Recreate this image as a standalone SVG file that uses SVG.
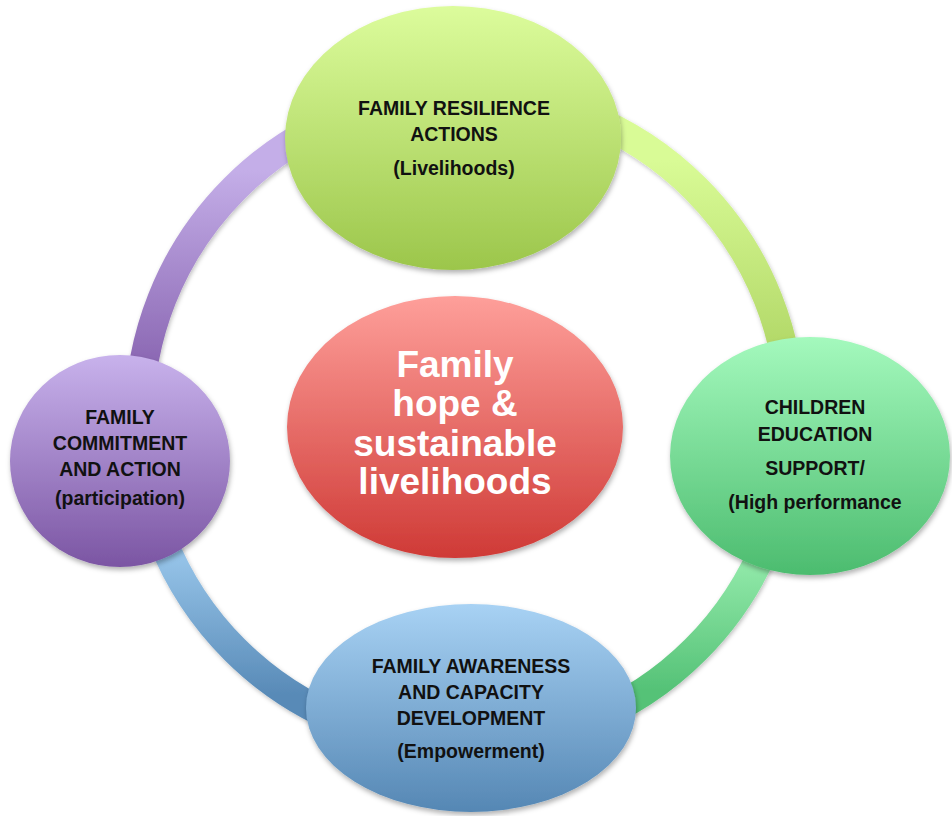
<svg xmlns="http://www.w3.org/2000/svg" width="952" height="816" viewBox="0 0 952 816">
<defs>
<style>
.lbl{font-family:"Liberation Sans",Arial,sans-serif;font-weight:bold;font-size:19.5px;fill:#111;text-anchor:middle}
.ctr{font-family:"Liberation Sans",Arial,sans-serif;font-weight:bold;font-size:37px;fill:#fff;text-anchor:middle}
.arc{fill:none;stroke-width:29}
</style>
<filter id="sh" x="-10%" y="-10%" width="120%" height="125%">
<feDropShadow dx="1" dy="3" stdDeviation="2.5" flood-color="#000" flood-opacity="0.3"/>
</filter>
<filter id="ash" x="-10%" y="-10%" width="120%" height="120%">
<feDropShadow dx="1" dy="2" stdDeviation="2" flood-color="#000" flood-opacity="0.25"/>
</filter>
<linearGradient id="gTop" x1="0" y1="0" x2="0" y2="1"><stop offset="0" stop-color="#dcfc9c"/><stop offset="1" stop-color="#9cc64b"/></linearGradient>
<linearGradient id="gRight" x1="0" y1="0" x2="0" y2="1"><stop offset="0" stop-color="#a4f9bd"/><stop offset="1" stop-color="#4cbc6f"/></linearGradient>
<linearGradient id="gBottom" x1="0" y1="0" x2="0" y2="1"><stop offset="0" stop-color="#a8d2f4"/><stop offset="1" stop-color="#5587b4"/></linearGradient>
<linearGradient id="gLeft" x1="0" y1="0" x2="0" y2="1"><stop offset="0" stop-color="#c8b2ec"/><stop offset="1" stop-color="#7b55a3"/></linearGradient>
<linearGradient id="gCenter" x1="0" y1="0" x2="0" y2="1"><stop offset="0" stop-color="#fe9f9a"/><stop offset="1" stop-color="#cf3a36"/></linearGradient>
<linearGradient id="aPurple" gradientUnits="userSpaceOnUse" x1="0" y1="170" x2="0" y2="360"><stop offset="0" stop-color="#c4aee8"/><stop offset="1" stop-color="#8c69b4"/></linearGradient>
<linearGradient id="aLime" gradientUnits="userSpaceOnUse" x1="0" y1="160" x2="0" y2="345"><stop offset="0" stop-color="#d9fb96"/><stop offset="1" stop-color="#b3d969"/></linearGradient>
<linearGradient id="aGreen" gradientUnits="userSpaceOnUse" x1="0" y1="565" x2="0" y2="690"><stop offset="0" stop-color="#90e8a8"/><stop offset="1" stop-color="#55c277"/></linearGradient>
<linearGradient id="aBlue" gradientUnits="userSpaceOnUse" x1="0" y1="560" x2="0" y2="695"><stop offset="0" stop-color="#94c2e7"/><stop offset="1" stop-color="#588ab7"/></linearGradient>
</defs>
<rect width="952" height="816" fill="#fff"/>
<g id="connectors" filter="url(#ash)">
<path class="arc" stroke="url(#aPurple)" d="M 139 419 A 326 326 0 0 1 465 93"/>
<path class="arc" stroke="url(#aLime)" d="M 465 93 A 326 326 0 0 1 791 419"/>
<path class="arc" stroke="url(#aGreen)" d="M 791 419 A 326 326 0 0 1 465 745"/>
<path class="arc" stroke="url(#aBlue)" d="M 465 745 A 326 326 0 0 1 139 419"/>
</g>
<g id="node-top">
<ellipse cx="453" cy="138" rx="168" ry="132" fill="url(#gTop)" filter="url(#sh)"/>
<text class="lbl" x="454" y="115">FAMILY RESILIENCE</text>
<text class="lbl" x="454" y="141">ACTIONS</text>
<text class="lbl" x="454" y="175">(Livelihoods)</text>
</g>
<g id="node-right">
<ellipse cx="810" cy="456" rx="140" ry="119" fill="url(#gRight)" filter="url(#sh)"/>
<text class="lbl" x="815" y="414">CHILDREN</text>
<text class="lbl" x="815" y="441">EDUCATION</text>
<text class="lbl" x="815" y="475">SUPPORT/</text>
<text class="lbl" x="815" y="509">(High performance</text>
</g>
<g id="node-bottom">
<ellipse cx="471" cy="708" rx="165" ry="104" fill="url(#gBottom)" filter="url(#sh)"/>
<text class="lbl" x="471" y="673">FAMILY AWARENESS</text>
<text class="lbl" x="471" y="699">AND CAPACITY</text>
<text class="lbl" x="471" y="725">DEVELOPMENT</text>
<text class="lbl" x="471" y="758">(Empowerment)</text>
</g>
<g id="node-left">
<ellipse cx="120" cy="461" rx="110" ry="106" fill="url(#gLeft)" filter="url(#sh)"/>
<text class="lbl" x="120" y="424">FAMILY</text>
<text class="lbl" x="120" y="450">COMMITMENT</text>
<text class="lbl" x="120" y="476">AND ACTION</text>
<text class="lbl" x="120" y="505">(participation)</text>
</g>
<g id="node-center">
<ellipse cx="455" cy="427" rx="168" ry="131" fill="url(#gCenter)" filter="url(#sh)"/>
<text class="ctr" x="455" y="377">Family</text>
<text class="ctr" x="455" y="416">hope &amp;</text>
<text class="ctr" x="455" y="456">sustainable</text>
<text class="ctr" x="455" y="494">livelihoods</text>
</g>
</svg>
